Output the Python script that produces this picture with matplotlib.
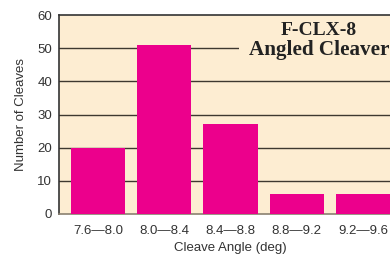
import matplotlib
matplotlib.use('Agg')
import matplotlib.pyplot as plt
from matplotlib.patches import Rectangle

plt.rcParams['font.family'] = ['Liberation Sans', 'DejaVu Sans']

# dados do grafico
faixas = ["7.6\u20148.0", "8.0\u20148.4", "8.4\u20148.8", "8.8\u20149.2", "9.2\u20149.6"]
clivagens = [20, 51, 27, 6, 6]
y_ticks = [0, 10, 20, 30, 40, 50, 60]

fundo = "#fdedd2"
rosa = "#ec008c"
texto = "#333333"

fig = plt.figure(figsize=(3.9, 2.54), dpi=100)
ax = fig.add_axes([59/390, 40/254, 343/390, 199/254])
ax.set_facecolor(fundo)

x = list(range(len(faixas)))
ax.bar(x, clivagens, width=0.82, color=rosa, zorder=3)

ax.set_xlim(-0.59, 4.59)
ax.set_ylim(0, 60)
ax.set_yticks(y_ticks)
ax.set_xticks(x)
ax.set_xticklabels(faixas)
ax.tick_params(axis='both', length=0, labelsize=9.5, labelcolor=texto, pad=5)
ax.tick_params(axis='x', pad=8)

# grade horizontal
for v in y_ticks[1:-1]:
    ax.axhline(v, color="#3e3830", lw=1.0, zorder=1)

for lado in ['left', 'top', 'right']:
    ax.spines[lado].set_color("#333333")
    ax.spines[lado].set_linewidth(1.2)
ax.spines['bottom'].set_color("#8a8070")
ax.spines['bottom'].set_linewidth(1.2)

ax.set_ylabel("Number of Cleaves", fontsize=9.5, color=texto, labelpad=7)
ax.set_xlabel("Cleave Angle (deg)", fontsize=9.5, color=texto, labelpad=3.5)

# caixa do titulo (esconde a grade atras)
ax.add_patch(Rectangle((0.525, 0.72), 0.5, 0.28, transform=ax.transAxes,
                       facecolor=fundo, edgecolor='none', zorder=1.5))
ax.text(0.758, 0.899, "F-CLX-8", transform=ax.transAxes,
        ha='center', va='baseline', fontsize=14, fontweight='bold',
        family='Liberation Serif', color="#222222", zorder=2)
ax.text(0.758, 0.799, "Angled Cleaver", transform=ax.transAxes,
        ha='center', va='baseline', fontsize=15.2, fontweight='bold',
        family='Liberation Serif', color="#222222", zorder=2)

fig.savefig("out.png", dpi=100)
